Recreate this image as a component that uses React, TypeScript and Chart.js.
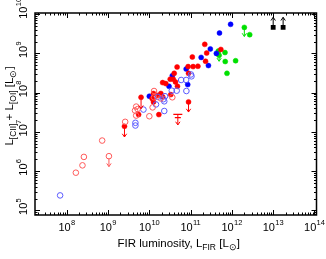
import React, { useEffect, useRef } from "react";
import { Chart, registerables } from "chart.js";
Chart.register(...registerables);

// Axis ranges
const xMin = 1.7e7;
const xMax = 1.12e14;
const yMin = 7.6e4;
const yMax = 1.07e10;
const xTickExps = [8, 9, 10, 11, 12, 13, 14];
const yTickExps = [5, 6, 7, 8, 9, 10];

// Red filled circles [L_FIR, L_CII+L_OI]
const redFilled = [
  [2.2e11, 1.7e9], [5.4e11, 1.26e9], [2.45e11, 1.02e9], [2.3e11, 6.3e8], [1.1e11, 8.1e8],
  [8.7e10, 4.6e8], [1.15e11, 4.6e8], [1.5e11, 4.7e8], [4.7e10, 4.5e8], [8.9e10, 3.1e8],
  [4.0e10, 3.1e8], [3.2e10, 2.2e8], [3.8e10, 2.2e8], [4.3e10, 1.86e8], [2.1e10, 1.8e8],
  [2.5e10, 1.7e8], [4.8e10, 1.45e8], [1.9e10, 9.5e7], [2.1e10, 7.8e7], [3.3e10, 8.9e7],
  [1.6e10, 8.5e7], [1.26e10, 9.5e7], [1.17e10, 7.1e7], [1.26e10, 5.8e7], [1.7e10, 2.75e7],
  [5.5e9, 2.75e7],
];
// Red filled upper limits [x, y, arrow tip y]
const redFilledLimits = [
  [6.3e9, 7.6e7, 3.9e7], [2.5e9, 1.38e7, 7.4e6], [8.9e10, 5.8e7, 3.2e7],
];
// Red bar-type upper limit [x, upper bar y, lower bar y, arrow tip y]
const redBarLimit = [4.9e10, 2.8e7, 2.3e7, 1.5e7];

// Red open circles
const redOpen = [
  [1.3e10, 1.1e8], [1.3e10, 7.6e7], [1.9e10, 7.1e7], [3.6e10, 7.6e7], [1.2e10, 4.2e7],
  [1.0e10, 2.5e7], [4.8e9, 4.4e7], [4.5e9, 3.5e7], [4.8e9, 2.6e7], [5.2e9, 3.8e7],
  [2.6e9, 1.8e7], [7.2e8, 6.0e6], [2.6e8, 2.3e6], [2.4e8, 1.4e6], [1.66e8, 9.1e5],
];
const redOpenLimits = [[1.05e9, 2.4e6, 1.3e6]];

// Blue filled circles
const blueFilled = [
  [9.3e11, 5.5e9], [5.0e11, 3.3e9], [3.0e11, 1.3e9], [4.2e11, 1.0e9], [1.8e11, 7.9e8],
  [2.7e11, 4.9e8], [7.8e10, 4.0e8], [8.5e10, 1.6e8], [3.6e10, 2.7e8], [3.0e10, 1.45e8],
  [1.0e10, 8.1e7],
];

// Blue open circles
const blueOpen = [
  [5.9e10, 2.1e8], [7.8e10, 2.1e8], [1.02e11, 2.9e8], [1.05e11, 2.6e8], [3.5e10, 1.12e8],
  [4.6e10, 1.12e8], [7.9e10, 1.1e8], [2.4e10, 8.1e7], [2.2e10, 6.8e7], [1.6e10, 7.8e7],
  [2.3e10, 6.0e7], [1.45e10, 5.0e7], [2.3e10, 3.4e7], [7.2e9, 3.7e7], [4.6e9, 1.7e7],
  [4.6e9, 1.45e7], [6.9e7, 2.4e5],
];

// Green filled circles
const greenFilled = [
  [2.7e12, 3.0e9], [4.7e11, 1.15e9], [4.5e11, 9.8e8], [6.8e11, 1.05e9], [6.9e11, 6.2e8],
  [1.23e12, 6.5e8], [7.6e11, 3.1e8],
];
const greenLimits = [[2.0e12, 4.6e9, 2.7e9], [4.9e11, 8.9e8, 6.3e8]];

// Black squares (lower limits) [x, y, arrow tip y]
const blackLimits = [[1.0e13, 4.6e9, 8.3e9], [1.74e13, 4.6e9, 8.3e9]];

const RED = "#ff0000";
const RED_OPEN = "#ff5a5a";
const BLUE = "#0000ff";
const BLUE_OPEN = "#5a5aff";
const GREEN = "#00e000";
const FONT = "'Liberation Sans', Arial, Helvetica, sans-serif";

const pts = (arr: number[][]) => arr.map((p) => ({ x: p[0], y: p[1] }));

function drawRich(
  ctx: CanvasRenderingContext2D,
  parts: { t: string; sub?: boolean }[],
  size: number,
  subSize: number,
  subShift: number
) {
  let total = 0;
  const widths = parts.map((p) => {
    ctx.font = `${p.sub ? subSize : size}px ${FONT}`;
    const w = ctx.measureText(p.t).width;
    total += w;
    return w;
  });
  let x = -total / 2;
  parts.forEach((p, i) => {
    ctx.font = `${p.sub ? subSize : size}px ${FONT}`;
    ctx.fillText(p.t, x, p.sub ? subShift : 0);
    x += widths[i];
  });
}

// centerWhole: centre the whole "10^n" string on the anchor; otherwise centre the "10"
function drawPow(ctx: CanvasRenderingContext2D, exp: number, centerWhole: boolean) {
  ctx.font = `11px ${FONT}`;
  const w = ctx.measureText("10").width;
  ctx.font = `7.5px ${FONT}`;
  const we = ctx.measureText(String(exp)).width;
  const x0 = centerWhole ? -(w + we + 0.3) / 2 : -w / 2;
  ctx.font = `11px ${FONT}`;
  ctx.fillText("10", x0, 0);
  ctx.font = `7.5px ${FONT}`;
  ctx.fillText(String(exp), x0 + w + 0.3, -6);
}

const decorPlugin = {
  id: "decor",
  afterDatasetsDraw(chart: any) {
    const { ctx, chartArea: a, scales } = chart;
    const xs = scales.x;
    const ys = scales.y;
    ctx.save();

    // arrows
    const arrow = (x: number, y: number, tip: number, color: string) => {
      const px = xs.getPixelForValue(x);
      const py = ys.getPixelForValue(y);
      const pt = ys.getPixelForValue(tip);
      const dir = pt > py ? 1 : -1;
      ctx.strokeStyle = color;
      ctx.lineWidth = 1;
      ctx.beginPath();
      ctx.moveTo(px, py);
      ctx.lineTo(px, pt);
      ctx.moveTo(px - 2.2, pt - dir * 3.2);
      ctx.lineTo(px, pt);
      ctx.lineTo(px + 2.2, pt - dir * 3.2);
      ctx.stroke();
    };
    redFilledLimits.forEach((l) => arrow(l[0], l[1], l[2], RED));
    redOpenLimits.forEach((l) => arrow(l[0], l[1] * 0.88, l[2], RED_OPEN));
    greenLimits.forEach((l) => arrow(l[0], l[1], l[2], GREEN));
    blackLimits.forEach((l) => arrow(l[0], l[1], l[2], "#000"));
    // bar-type limit
    {
      const px = xs.getPixelForValue(redBarLimit[0]);
      const p1 = ys.getPixelForValue(redBarLimit[1]);
      const p2 = ys.getPixelForValue(redBarLimit[2]);
      ctx.strokeStyle = RED;
      ctx.lineWidth = 1.3;
      ctx.beginPath();
      ctx.moveTo(px - 4.5, p1);
      ctx.lineTo(px + 4.5, p1);
      ctx.moveTo(px - 3, p2);
      ctx.lineTo(px + 3, p2);
      ctx.stroke();
      arrow(redBarLimit[0], redBarLimit[1], redBarLimit[3], RED);
    }

    // frame
    ctx.strokeStyle = "#000";
    ctx.lineWidth = 1.5;
    ctx.strokeRect(a.left, a.top, a.right - a.left, a.bottom - a.top);

    // ticks
    ctx.lineWidth = 1;
    ctx.beginPath();
    for (let d = 7; d <= 14; d++) {
      for (let k = 1; k < 10; k++) {
        const v = k * Math.pow(10, d);
        if (v < xMin || v > xMax) continue;
        const px = Math.round(xs.getPixelForValue(v)) + 0.5;
        const len = k === 1 ? 5 : 2.5;
        ctx.moveTo(px, a.bottom);
        ctx.lineTo(px, a.bottom - len);
        ctx.moveTo(px, a.top);
        ctx.lineTo(px, a.top + len);
      }
    }
    for (let d = 4; d <= 10; d++) {
      for (let k = 1; k < 10; k++) {
        const v = k * Math.pow(10, d);
        if (v < yMin || v > yMax) continue;
        const py = Math.round(ys.getPixelForValue(v)) + 0.5;
        const len = k === 1 ? 5 : 2.5;
        ctx.moveTo(a.left, py);
        ctx.lineTo(a.left + len, py);
        ctx.moveTo(a.right, py);
        ctx.lineTo(a.right - len, py);
      }
    }
    ctx.stroke();

    // tick labels
    ctx.fillStyle = "#000";
    ctx.textBaseline = "alphabetic";
    ctx.textAlign = "left";
    xTickExps.forEach((e) => {
      const px = xs.getPixelForValue(Math.pow(10, e));
      ctx.save();
      ctx.translate(px, a.bottom + 16);
      drawPow(ctx, e, true);
      ctx.restore();
    });
    yTickExps.forEach((e) => {
      const py = ys.getPixelForValue(Math.pow(10, e));
      ctx.save();
      ctx.translate(a.left - 8.5, py - 1.5);
      ctx.rotate(-Math.PI / 2);
      drawPow(ctx, e, false);
      ctx.restore();
    });

    // axis titles
    ctx.save();
    ctx.translate((a.left + a.right) / 2 + 3, a.bottom + 32);
    drawRich(
      ctx,
      [
        { t: "FIR luminosity, L" },
        { t: "FIR", sub: true },
        { t: " [L" },
        { t: "\u2299", sub: true },
        { t: "]" },
      ],
      11.5,
      8.5,
      3
    );
    ctx.restore();

    ctx.save();
    ctx.translate(13, (a.top + a.bottom) / 2 - 8);
    ctx.rotate(-Math.PI / 2);
    drawRich(
      ctx,
      [
        { t: "L" },
        { t: "[CII]", sub: true },
        { t: " + L" },
        { t: "[OI]", sub: true },
        { t: " [L" },
        { t: "\u2299", sub: true },
        { t: "]" },
      ],
      11.5,
      8.5,
      3
    );
    ctx.restore();

    ctx.restore();
  },
};

export default function App() {
  const ref = useRef<HTMLCanvasElement>(null);
  useEffect(() => {
    if (!ref.current) return;
    const filled = (data: number[][], color: string) => ({
      data: pts(data),
      backgroundColor: color,
      borderColor: color,
      borderWidth: 0.5,
      pointRadius: 2.5,
      pointStyle: "circle",
    });
    const open = (data: number[][], color: string) => ({
      data: pts(data),
      backgroundColor: "rgba(0,0,0,0)",
      borderColor: color,
      borderWidth: 1,
      pointRadius: 2.8,
      pointStyle: "circle",
    });
    const chart = new Chart(ref.current, {
      type: "scatter",
      data: {
        datasets: [
          open(redOpen.concat(redOpenLimits.map((l) => [l[0], l[1]])), RED_OPEN),
          open(blueOpen, BLUE_OPEN),
          filled(redFilled.concat(redFilledLimits.map((l) => [l[0], l[1]])), RED),
          filled(blueFilled, BLUE),
          filled(greenFilled.concat(greenLimits.map((l) => [l[0], l[1]])), GREEN),
          {
            data: pts(blackLimits.map((l) => [l[0], l[1]])),
            backgroundColor: "#000",
            borderColor: "#000",
            borderWidth: 0,
            pointRadius: 3.4,
            pointStyle: "rect",
          },
        ] as any,
      },
      options: {
        animation: false,
        responsive: false,
        devicePixelRatio: 1,
        layout: { padding: { left: 35, right: 9.5, top: 13, bottom: 44 } },
        plugins: { legend: { display: false }, tooltip: { enabled: false } },
        scales: {
          x: { type: "logarithmic", min: xMin, max: xMax, display: false },
          y: { type: "logarithmic", min: yMin, max: yMax, display: false },
        },
      } as any,
      plugins: [decorPlugin],
    });
    return () => chart.destroy();
  }, []);
  return (
    <div style={{ position: "absolute", left: 0, top: 0, width: 326, height: 259, background: "#fff" }}>
      <canvas ref={ref} width={326} height={259} style={{ display: "block" }} />
    </div>
  );
}
